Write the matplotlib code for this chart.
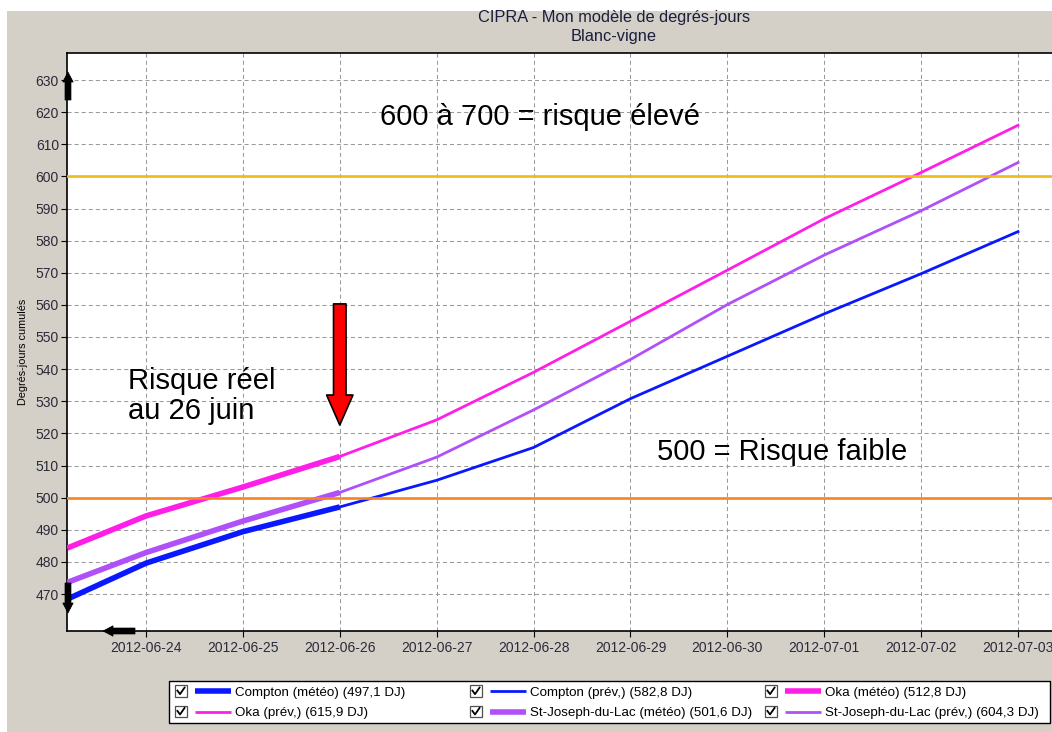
import matplotlib
matplotlib.use('Agg')
import matplotlib.pyplot as plt
import matplotlib.dates as mdates
import pandas as pd
from matplotlib.patches import Rectangle, FancyArrowPatch
from matplotlib.lines import Line2D
from matplotlib.legend_handler import HandlerBase

plt.rcParams['font.family'] = ['Liberation Sans', 'DejaVu Sans']

# ---------------- data ----------------
meteo_dates = pd.to_datetime(['2012-06-23 04:30', '2012-06-24 00:00', '2012-06-25 00:00',
                              '2012-06-26 00:00'])
prev_dates = pd.to_datetime(['2012-06-26', '2012-06-27', '2012-06-28', '2012-06-29',
                             '2012-06-30', '2012-07-01', '2012-07-02', '2012-07-03'])

compton_meteo = [468.4, 479.6, 489.4, 497.1]
compton_prev = [497.1, 505.4, 515.6, 530.8, 544.0, 557.2, 569.7, 582.8]
oka_meteo = [484.3, 494.3, 503.3, 512.8]
oka_prev = [512.8, 524.2, 539.0, 554.9, 570.8, 586.8, 601.2, 615.9]
stj_meteo = [473.6, 482.9, 492.7, 501.6]
stj_prev = [501.6, 512.6, 527.3, 543.0, 560.1, 575.5, 589.3, 604.3]

stations = ['Compton', 'Oka', 'St-Joseph-du-Lac']
station_colors = ['#0a18ff', '#ff1ee8', '#b050f8']
thresholds = [500, 600]
threshold_colors = ['#f7841e', '#eebb18']

title_lines = ['CIPRA - Mon modèle de degrés-jours', 'Blanc-vigne']
ylabel = 'Degrés-jours cumulés'
y_ticks = list(range(470, 631, 10))
x_ticks = pd.date_range('2012-06-24', '2012-07-03', freq='D')

# ---------------- figure ----------------
W, H = 1052, 732
fig = plt.figure(figsize=(W / 100, H / 100), dpi=100)
fig.patch.set_facecolor('white')
fig.add_artist(Rectangle((7 / W, 0), 1, 1 - 11 / H, transform=fig.transFigure,
                         fc='#d4d0c8', ec='none', zorder=-10))

ax = fig.add_axes([67 / W, 1 - 631 / H, (W - 67) / W, (631 - 53) / H])
ax.set_facecolor('white')

px_per_day = (1018 - 146) / 9.0
x_left = pd.Timestamp('2012-06-24') - pd.Timedelta(days=(146 - 67) / px_per_day)
x_right = pd.Timestamp('2012-07-03') + pd.Timedelta(days=(W - 1018) / px_per_day)
ax.set_xlim(x_left, x_right)
px_per_unit = (594 - 80) / 160.0
ax.set_ylim(470 - (631 - 594) / px_per_unit, 630 + (80 - 53) / px_per_unit)

meteo_series = [compton_meteo, oka_meteo, stj_meteo]
prev_series = [compton_prev, oka_prev, stj_prev]
handles = {}
for name, col, m, p in zip(stations, station_colors, meteo_series, prev_series):
    lm, = ax.plot(meteo_dates, m, color=col, lw=4.0, solid_capstyle='butt', zorder=3)
    lp, = ax.plot(prev_dates, p, color=col, lw=2.0, zorder=3)
    handles[(name, 'm')] = (lm, f"{name} (météo) ({m[-1]:.1f} DJ)".replace('.', ','))
    handles[(name, 'p')] = (lp, f"{name} (prév.) ({p[-1]:.1f} DJ)".replace('.', ','))

for t, c in zip(thresholds, threshold_colors):
    ax.axhline(t, color=c, lw=1.9, zorder=4)

ax.set_yticks(y_ticks)
ax.set_xticks(x_ticks)
ax.xaxis.set_major_formatter(mdates.DateFormatter('%Y-%m-%d'))
ax.grid(True, color='#9a9a9a', lw=0.75, linestyle=(0, (3.9, 2.9)), zorder=1)
ax.set_axisbelow(True)
ax.tick_params(axis='both', direction='out', length=4.3, width=0.8, color='black',
               labelsize=10, labelcolor='#2a2a3a')
ax.tick_params(axis='y', pad=1.5)
ax.tick_params(axis='x', pad=3)
for s in ['left', 'bottom', 'top']:
    ax.spines[s].set_color('black')
    ax.spines[s].set_linewidth(1.2)
ax.spines['right'].set_visible(False)

# titles / labels
fig.text(614 / W, 1 - 17.5 / H, title_lines[0], ha='center', va='center',
         fontsize=11.8, color='#1c1c3c')
fig.text(614 / W, 1 - 37 / H, title_lines[1], ha='center', va='center',
         fontsize=11.8, color='#1c1c3c')
fig.text(23 / W, 1 - 352 / H, ylabel, rotation=90, ha='center', va='center',
         fontsize=7.8, color='black')

# annotations
ax.text((380 - 67) / 985, (631 - 117) / 578, '600 à 700 = risque élevé',
        transform=ax.transAxes, fontsize=21, ha='left', va='center', zorder=6)
ax.text((128 - 67) / 985, (631 - 396) / 578, 'Risque réel\nau 26 juin',
        transform=ax.transAxes, fontsize=21, ha='left', va='center',
        linespacing=1.05, zorder=6)
ax.text((657 - 67) / 985, (631 - 452) / 578, '500 = Risque faible',
        transform=ax.transAxes, fontsize=21, ha='left', va='center', zorder=6)

# red arrow (data coordinates)
red = FancyArrowPatch((mdates.date2num(pd.Timestamp('2012-06-26')), 560.3),
                      (mdates.date2num(pd.Timestamp('2012-06-26')), 522.6),
                      arrowstyle='simple,head_length=1.08,head_width=0.95,tail_width=0.45',
                      mutation_scale=20, fc='#ff0000', ec='black', lw=1.2,
                      shrinkA=0, shrinkB=0, zorder=7)
ax.add_patch(red)

# black scroll arrows on axes
blk = 'simple,head_length=0.72,head_width=0.75,tail_width=0.43'
for a, b in [((0.001, (631 - 100) / 578), (0.001, (631 - 72) / 578)),
             ((0.001, (631 - 583) / 578), (0.001, (631 - 613) / 578)),
             (((135 - 67) / 985, 0.0), ((103 - 67) / 985, 0.0))]:
    ar = FancyArrowPatch(a, b, transform=ax.transAxes, arrowstyle=blk,
                         mutation_scale=10, fc='black', ec='black', lw=0.5,
                         shrinkA=0, shrinkB=0, zorder=8, clip_on=False)
    ax.add_patch(ar)


# ---------------- legend ----------------
class CheckLineHandler(HandlerBase):
    def create_artists(self, legend, orig_handle, xdescent, ydescent, width, height,
                       fontsize, trans):
        bs = 8.6
        yc = -ydescent + height / 2
        x0 = -xdescent
        box = Rectangle((x0, yc - bs / 2), bs, bs, fc='white', ec='#505050', lw=0.9,
                        transform=trans)
        chk = Line2D([x0 + 0.2 * bs, x0 + 0.42 * bs, x0 + 0.8 * bs],
                     [yc + 0.05 * bs, yc - 0.25 * bs, yc + 0.3 * bs],
                     color='black', lw=1.3, transform=trans)
        ln = Line2D([x0 + 14.4, x0 + width], [yc, yc], color=orig_handle.get_color(),
                    lw=orig_handle.get_linewidth(), solid_capstyle='butt', transform=trans)
        return [box, chk, ln]


columns = [[('Compton', 'm'), ('Oka', 'p')],
           [('Compton', 'p'), ('St-Joseph-du-Lac', 'm')],
           [('Oka', 'm'), ('St-Joseph-du-Lac', 'p')]]
col_x = [175, 470, 765]
for cx, col in zip(col_x, columns):
    hs = [handles[k][0] for k in col]
    ls = [handles[k][1] for k in col]
    fig.legend(hs, ls, loc='upper left', bbox_to_anchor=(cx / W, 1 - 686.5 / H),
               bbox_transform=fig.transFigure, frameon=False, fontsize=9.6,
               handlelength=4.17, handletextpad=0.3, labelspacing=0.6,
               borderpad=0, borderaxespad=0, handler_map={Line2D: CheckLineHandler()})

fig.add_artist(Rectangle((169 / W, 1 - 722.5 / H), (1050 - 169) / W, (722.5 - 681) / H,
                         transform=fig.transFigure, fc='white', ec='black', lw=1.0,
                         zorder=-5))

fig.savefig('out.png', dpi=100)
